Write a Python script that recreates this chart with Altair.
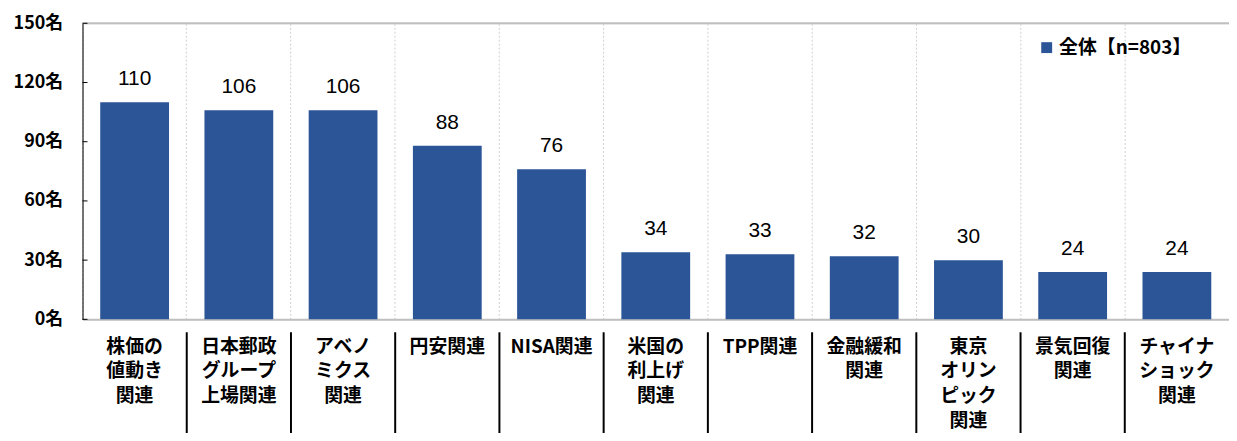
import altair as alt
import pandas as pd

categories = [
    "株価の|値動き|関連",
    "日本郵政|グループ|上場関連",
    "アベノ|ミクス|関連",
    "円安関連",
    "NISA関連",
    "米国の|利上げ|関連",
    "TPP関連",
    "金融緩和|関連",
    "東京|オリン|ピック|関連",
    "景気回復|関連",
    "チャイナ|ショック|関連",
]
values = [110, 106, 106, 88, 76, 34, 33, 32, 30, 24, 24]
series_name = "全体【n=803】"
y_ticks = [0, 30, 60, 90, 120, 150]

FONT = "Noto Sans CJK JP"
NUMFONT = "Liberation Sans"
BLUE = "#2B5597"

df = pd.DataFrame({"cat": categories, "val": values, "series": series_name})
sep_df = pd.DataFrame({"cat": categories[1:]})
tick_df = pd.DataFrame({"v": y_ticks})

yscale = alt.Scale(domain=[0, 150], nice=False, zero=True)

xenc = alt.X(
    "cat:N",
    sort=categories,
    scale=alt.Scale(paddingInner=0, paddingOuter=0),
    axis=alt.Axis(
        title=None,
        labelAngle=0,
        labelExpr="split(datum.label, '|')",
        labelFont=FONT,
        labelFontSize=19,
        labelFontWeight="bold",
        labelColor="black",
        labelLineHeight=25,
        labelBaseline="top",
        labelAlign="center",
        labelPadding=18,
        ticks=False,
        domainColor="#bfbfbf",
        domainWidth=2,
        grid=True,
        gridDash=[2, 2],
        gridColor="#cfcfcf",
        bandPosition=0,
    ),
)

yenc = alt.Y(
    "val:Q",
    scale=yscale,
    axis=alt.Axis(
        title=None,
        values=y_ticks,
        labelExpr="datum.value + '名'",
        labelFont=FONT,
        labelFontSize=18,
        labelFontWeight="bold",
        labelColor="black",
        labelPadding=20,
        ticks=False,
        grid=False,
        domainColor="black",
        domainWidth=1,
    ),
)

bars = alt.Chart(df).mark_bar(width={"band": 0.66}).encode(
    x=xenc,
    y=yenc,
    color=alt.Color(
        "series:N",
        scale=alt.Scale(range=[BLUE]),
        legend=alt.Legend(
            title=None,
            orient="none",
            legendX=961,
            legendY=15,
            symbolType="square",
            symbolSize=120,
            symbolStrokeWidth=0,
            labelFont=FONT,
            labelFontSize=19,
            labelFontWeight="bold",
            labelColor="black",
            labelOffset=3,
        ),
    ),
)

texts = alt.Chart(df).mark_text(
    baseline="bottom", dy=-13, font=NUMFONT, fontSize=21, fontWeight="normal", color="black"
).encode(
    x=alt.X("cat:N", sort=categories),
    y=alt.Y("val:Q", scale=yscale),
    text=alt.Text("val:Q"),
)

seps = alt.Chart(sep_df).mark_rule(color="black", strokeWidth=2).encode(
    x=alt.X("cat:N", sort=categories, bandPosition=0),
    y=alt.value(311),
    y2=alt.value(416),
)

yticks = alt.Chart(tick_df).mark_rule(color="black", strokeWidth=1).encode(
    y=alt.Y("v:Q", scale=yscale),
    x=alt.value(0),
    x2=alt.value(5),
)

top_border = alt.Chart(tick_df).transform_filter("datum.v == 150").mark_rule(
    color="#bfbfbf", strokeWidth=2
).encode(
    y=alt.Y("v:Q", scale=yscale),
    x=alt.value(0),
    x2=alt.value(1154),
)

chart = alt.layer(bars, texts, seps, top_border, yticks).properties(
    width=1154,
    height=298,
    autosize=alt.AutoSizeParams(type="none"),
    padding={"left": 75, "top": 14, "right": 0, "bottom": 113},
).configure_view(stroke=None).configure(background="white")

chart.save("out.html", embed_options={"renderer": "svg", "actions": False})
